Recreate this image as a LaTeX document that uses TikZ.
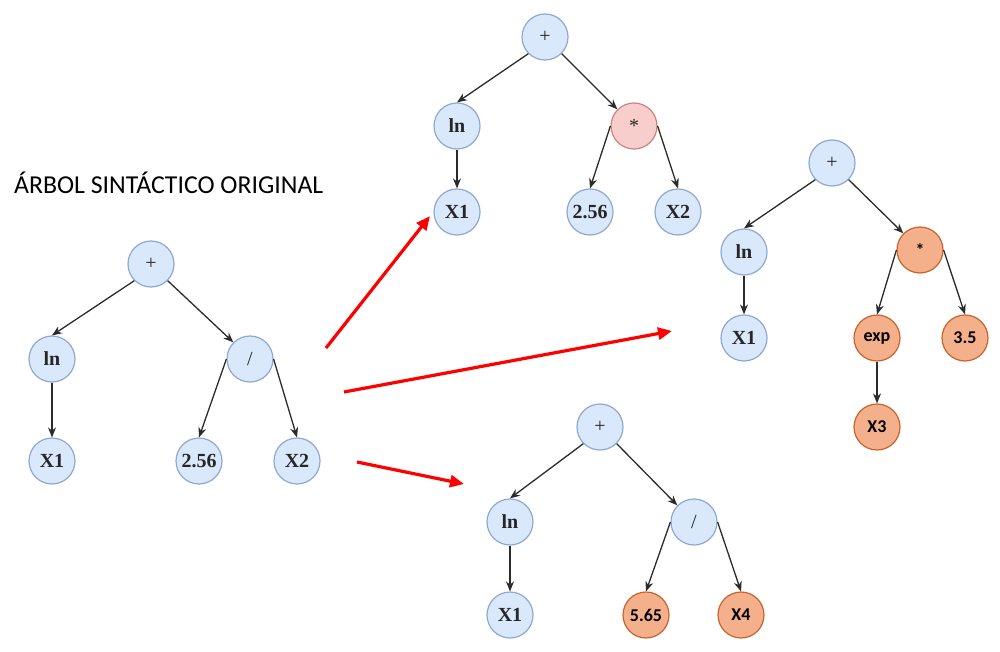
\documentclass[tikz,border=0pt]{standalone}
\usepackage{fontspec}
\setmainfont{Liberation Serif}
\newfontfamily\calibri{Carlito}
\usetikzlibrary{arrows.meta}
\definecolor{bluefill}{HTML}{DAE8FC}
\definecolor{bluedraw}{HTML}{8EA9CF}
\definecolor{pinkfill}{HTML}{F8CECC}
\definecolor{pinkdraw}{HTML}{C98580}
\definecolor{orangefill}{HTML}{F4B08A}
\definecolor{orangedraw}{HTML}{C8632C}
\definecolor{edgecol}{HTML}{2B2B2B}

\begin{document}
\begin{tikzpicture}[x=0.5pt, y=-0.5pt,
    bluenode/.style={circle, draw=bluedraw, fill=bluefill, line width=0.6pt, minimum size=23pt, inner sep=0pt, text=black!85, font=\fontsize{10}{12}\selectfont\bfseries},
    opnode/.style={bluenode, font=\fontsize{10}{12}\selectfont},
    pinknode/.style={bluenode, draw=pinkdraw, fill=pinkfill, font=\fontsize{10}{12}\selectfont},
    orangenode/.style={bluenode, draw=orangedraw, fill=orangefill, text=black, font=\calibri\fontsize{9}{11}\selectfont\bfseries},
    edge/.style={draw=edgecol, line width=0.65pt, -{Stealth[length=5pt,width=4pt]}},
    redarrow/.style={draw=red, line width=1.6pt, -{Triangle[length=7pt,width=6pt]}}]
\useasboundingbox (0,0) rectangle (1000,652);

\node[anchor=west, font=\calibri\fontsize{12.9}{15}\selectfont] (title) at (7,183) {ÁRBOL SINTÁCTICO ORIGINAL};

% original tree
\begin{scope}[every node/.append style={minimum size=25pt}]
\node[opnode] (aplus) at (151,264) {+};
\node[bluenode] (aln) at (52,359) {ln};
\node[opnode] (adiv) at (250,359) {/};
\node[bluenode] (ax1) at (52,461) {X1};
\node[bluenode] (a256) at (199,461) {2.56};
\node[bluenode] (ax2) at (297,461) {X2};
\end{scope}
\draw[edge] (aplus.south west) -- (aln.north);
\draw[edge] (aplus.south east) -- (adiv.north west);
\draw[edge] (aln) -- (ax1);
\draw[edge] (adiv.west) -- (a256.north);
\draw[edge] (adiv.east) -- (ax2.north);

% top tree
\node[opnode] (bplus) at (545,37) {+};
\node[bluenode] (bln) at (457,126) {ln};
\node[pinknode] (bmul) at (634,126) {*};
\node[bluenode] (bx1) at (457,212) {X1};
\node[bluenode] (b256) at (590,212) {2.56};
\node[bluenode] (bx2) at (678,212) {X2};
\draw[edge] (bplus.south west) -- (bln.north);
\draw[edge] (bplus.south east) -- (bmul.north west);
\draw[edge] (bln) -- (bx1);
\draw[edge] (bmul.west) -- (b256.north);
\draw[edge] (bmul.east) -- (bx2.north);

% right tree
\node[opnode] (cplus) at (832,163) {+};
\node[bluenode] (cln) at (744,252) {ln};
\node[orangenode] (cmul) at (920,250) {*};
\node[bluenode] (cx1) at (744,338) {X1};
\node[orangenode] (cexp) at (877,338) {exp};
\node[orangenode] (c35) at (965,338) {3.5};
\node[orangenode] (cx3) at (877,427) {X3};
\draw[edge] (cplus.south west) -- (cln.north);
\draw[edge] (cplus.south east) -- (cmul.north west);
\draw[edge] (cln) -- (cx1);
\draw[edge] (cmul.west) -- (cexp.north);
\draw[edge] (cmul.east) -- (c35.north);
\draw[edge] (cexp) -- (cx3);

% bottom tree
\node[opnode] (dplus) at (600,427) {+};
\node[bluenode] (dln) at (510,522) {ln};
\node[opnode] (ddiv) at (694,522) {/};
\node[bluenode] (dx1) at (510,615) {X1};
\node[orangenode] (d565) at (646,615) {5.65};
\node[orangenode] (dx4) at (741,615) {X4};
\draw[edge] (dplus.south west) -- (dln.north);
\draw[edge] (dplus.south east) -- (ddiv.north west);
\draw[edge] (dln) -- (dx1);
\draw[edge] (ddiv.west) -- (d565.north);
\draw[edge] (ddiv.east) -- (dx4.north);

% red arrows
\coordinate (from1) at (326,348);
\coordinate (to1) at (430,216);
\coordinate (from2) at (344,392);
\coordinate (to2) at (672,331);
\coordinate (from3) at (357,462);
\coordinate (to3) at (464,484);
\draw[redarrow] (from1) -- (to1);
\draw[redarrow] (from2) -- (to2);
\draw[redarrow] (from3) -- (to3);
\end{tikzpicture}
\end{document}
